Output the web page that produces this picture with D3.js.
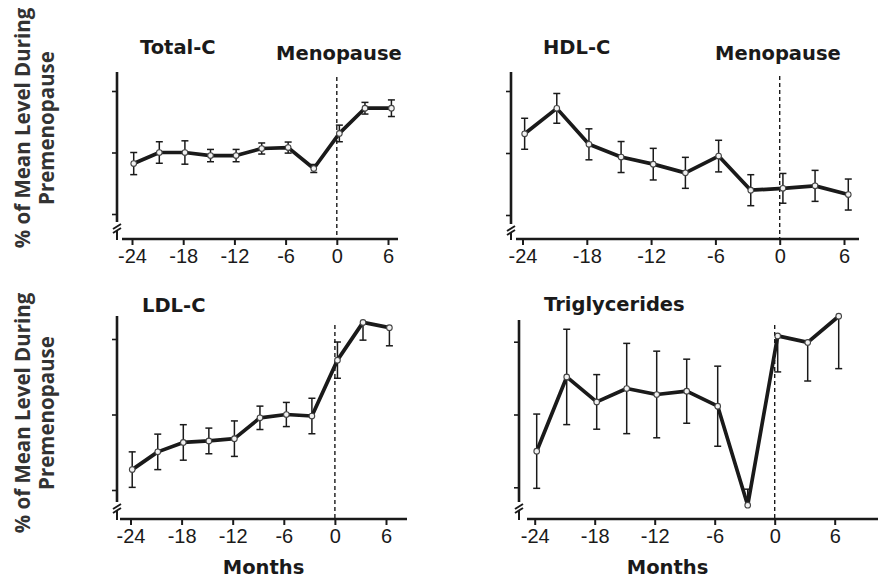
<!DOCTYPE html>
<html>
<head>
<meta charset="utf-8">
<script src="https://cdn.jsdelivr.net/npm/d3@7"></script>
<style>
  body { margin: 0; background: #fff; }
  svg { display: block; }
  .tick text { font-family: "Liberation Sans", Arial, sans-serif; font-size: 20px; fill: #1a1a1a; }
  .title { font-family: "DejaVu Sans", sans-serif; font-weight: bold; font-size: 19.5px; fill: #1a1a1a; }
  .ylab { font-family: "Open Sans", sans-serif; font-weight: bold; font-size: 20.5px; fill: #333; }
</style>
</head>
<body>
<script>
// months relative to menopause (same sampling in every panel)
var months = [-23.8, -20.8, -17.8, -14.8, -11.8, -8.8, -5.7, -2.7, 0.3, 3.3, 6.4];
var xTicks = [-24, -18, -12, -6, 0, 6];
var yTicks = [90, 100, 110];

// % of mean premenopausal level
var totalC     = [98.2, 100, 100, 99.5, 99.5, 100.65, 100.8, 97.4, 103.1, 107.2, 107.2];
var totalCErr  = [1.8, 1.75, 1.9, 1.0, 1.0, 0.9, 0.9, 0.65, 1.35, 0.95, 1.35];

var hdlC       = [103.1, 107.2, 101.4, 99.35, 98.2, 96.8, 99.5, 94.0, 94.3, 94.7, 93.3];
var hdlCErr    = [2.5, 2.4, 2.5, 2.5, 2.55, 2.5, 2.55, 2.5, 2.4, 2.5, 2.5];

var ldlC       = [92.7, 95.05, 96.3, 96.5, 96.8, 99.56, 100, 99.8, 107.2, 112.2, 111.5];
var ldlCErrLo  = [2.35, 2.35, 2.35, 1.7, 2.35, 1.55, 1.6, 2.35, 2.4, 2.35, 2.4];
var ldlCErrHi  = [2.35, 2.35, 2.35, 1.7, 2.35, 1.55, 1.6, 2.35, 2.4, 0, 0];

var trig       = [94.96, 105.16, 101.73, 103.57, 102.75, 103.2, 101.14, 87.54, 110.8, 109.9, 113.5];
var trigErrLo  = [5.1, 6.55, 3.75, 6.2, 5.95, 4.4, 5.5, 0, 4.95, 5.3, 7.2];
var trigErrHi  = [5.1, 6.55, 3.75, 6.2, 5.95, 4.4, 5.5, 2.2, 0, 0, 0];

var titles = ["Total-C", "HDL-C", "LDL-C", "Triglycerides"];

var width = 878, height = 578;
var ink = "#1a1a1a";

// layout of each panel (pixel positions)
var panels = [
  { title: titles[0], vals: totalC, lo: totalCErr, hi: totalCErr,
    ax: 117, top: 72, brk: 222, xy: 239, x0: 122, x1: 398, xr: [132, 388], yr: [214, 91],
    tx: 140, ty: 54, meno: true, mx: 276, my: 60, dashTop: 77, months: false },
  { title: titles[1], vals: hdlC, lo: hdlCErr, hi: hdlCErr,
    ax: 511, top: 72, brk: 224, xy: 239, x0: 516, x1: 859, xr: [522.5, 844], yr: [215, 91],
    tx: 543, ty: 54, meno: true, mx: 715, my: 60, dashTop: 76, months: false },
  { title: titles[2], vals: ldlC, lo: ldlCErrLo, hi: ldlCErrHi,
    ax: 117, top: 316, brk: 502, xy: 519, x0: 120, x1: 407, xr: [130.5, 386], yr: [490, 339],
    tx: 142, ty: 312, meno: false, dashTop: 325, months: true },
  { title: titles[3], vals: trig, lo: trigErrLo, hi: trigErrHi,
    ax: 519, top: 320, brk: 502, xy: 519, x0: 527, x1: 878, xr: [534.7, 834.7], yr: [487.3, 341.7],
    tx: 544, ty: 311, meno: false, dashTop: 325, months: true }
];

var svg = d3.select("body").append("svg")
  .attr("width", width)
  .attr("height", height);

panels.forEach(function(p) {
  var x = d3.scaleLinear().domain([-24, 6]).range(p.xr);
  var y = d3.scaleLinear().domain([90, 110]).range(p.yr);
  var g = svg.append("g");

  // y axis: ticks only, line drawn by hand because of the break
  var ya = g.append("g")
    .attr("transform", "translate(" + p.ax + ",0)")
    .call(d3.axisLeft(y).tickValues(yTicks).tickSize(5).tickFormat(""));
  ya.select(".domain").remove();
  ya.selectAll(".tick line").attr("stroke", ink).attr("stroke-width", 1.6);

  g.append("line")
    .attr("x1", p.ax).attr("x2", p.ax).attr("y1", p.top).attr("y2", p.brk)
    .attr("stroke", ink).attr("stroke-width", 2.6);
  // axis break mark
  g.append("path")
    .attr("d", "M" + (p.ax - 4) + "," + (p.brk + 7) + "L" + (p.ax + 4) + "," + (p.brk + 2) +
               "M" + (p.ax - 4) + "," + (p.brk + 11) + "L" + (p.ax + 4) + "," + (p.brk + 6) +
               "M" + (p.ax) + "," + (p.brk + 9) + "L" + p.ax + "," + (p.xy + 1))
    .attr("fill", "none").attr("stroke", ink).attr("stroke-width", 2);

  // x axis (plain hyphen minus, like the original)
  var xa = g.append("g")
    .attr("transform", "translate(0," + p.xy + ")")
    .call(d3.axisBottom(x).tickValues(xTicks).tickSize(6).tickPadding(4)
      .tickFormat(function(d) { return String(d); }));
  xa.select(".domain").remove();
  xa.selectAll(".tick line").attr("stroke", ink).attr("stroke-width", 2);
  g.append("line")
    .attr("x1", p.x0).attr("x2", p.x1).attr("y1", p.xy).attr("y2", p.xy)
    .attr("stroke", ink).attr("stroke-width", 2.6);

  // menopause line
  g.append("line")
    .attr("x1", x(0)).attr("x2", x(0)).attr("y1", p.dashTop).attr("y2", p.xy)
    .attr("stroke", ink).attr("stroke-width", 1.4).attr("stroke-dasharray", "4,3");

  // error bars
  var eb = g.append("g").attr("stroke", ink).attr("stroke-width", 1.5);
  months.forEach(function(m, i) {
    var cx = x(m);
    var yHi = y(p.vals[i] + p.hi[i]), yLo = y(p.vals[i] - p.lo[i]);
    eb.append("line").attr("x1", cx).attr("x2", cx).attr("y1", yHi).attr("y2", yLo);
    if (p.hi[i] > 0) eb.append("line").attr("x1", cx - 3.5).attr("x2", cx + 3.5).attr("y1", yHi).attr("y2", yHi);
    if (p.lo[i] > 0) eb.append("line").attr("x1", cx - 3.5).attr("x2", cx + 3.5).attr("y1", yLo).attr("y2", yLo);
  });

  var line = d3.line()
    .x(function(d, i) { return x(months[i]); })
    .y(function(d) { return y(d); });

  g.append("path")
    .datum(p.vals)
    .attr("d", line)
    .attr("fill", "none")
    .attr("stroke", ink)
    .attr("stroke-width", 3.7)
    .attr("stroke-linejoin", "round");

  g.selectAll("circle")
    .data(p.vals)
    .enter()
    .append("circle")
      .attr("cx", function(d, i) { return x(months[i]); })
      .attr("cy", function(d) { return y(d); })
      .attr("r", 2.8)
      .attr("fill", "#f2f2f2")
      .attr("stroke", "#444")
      .attr("stroke-width", 1.1);

  g.append("text").attr("class", "title")
    .attr("x", p.tx).attr("y", p.ty).text(p.title);
  if (p.meno) {
    g.append("text").attr("class", "title")
      .attr("x", p.mx).attr("y", p.my).text("Menopause");
  }
  if (p.months) {
    g.append("text").attr("class", "title")
      .attr("x", (p.x0 + p.x1) / 2 - (p.ax > 300 ? 35 : 0)).attr("y", 574)
      .attr("text-anchor", "middle").text("Months");
  }
});

// shared y labels
[128, 413].forEach(function(cy) {
  var t = svg.append("text").attr("class", "ylab")
    .attr("transform", "translate(0," + cy + ") rotate(-90)")
    .attr("text-anchor", "middle");
  t.append("tspan").attr("x", 0).attr("y", 30).text("% of Mean Level During");
  t.append("tspan").attr("x", 0).attr("y", 54).text("Premenopause");
});
</script>
</body>
</html>
